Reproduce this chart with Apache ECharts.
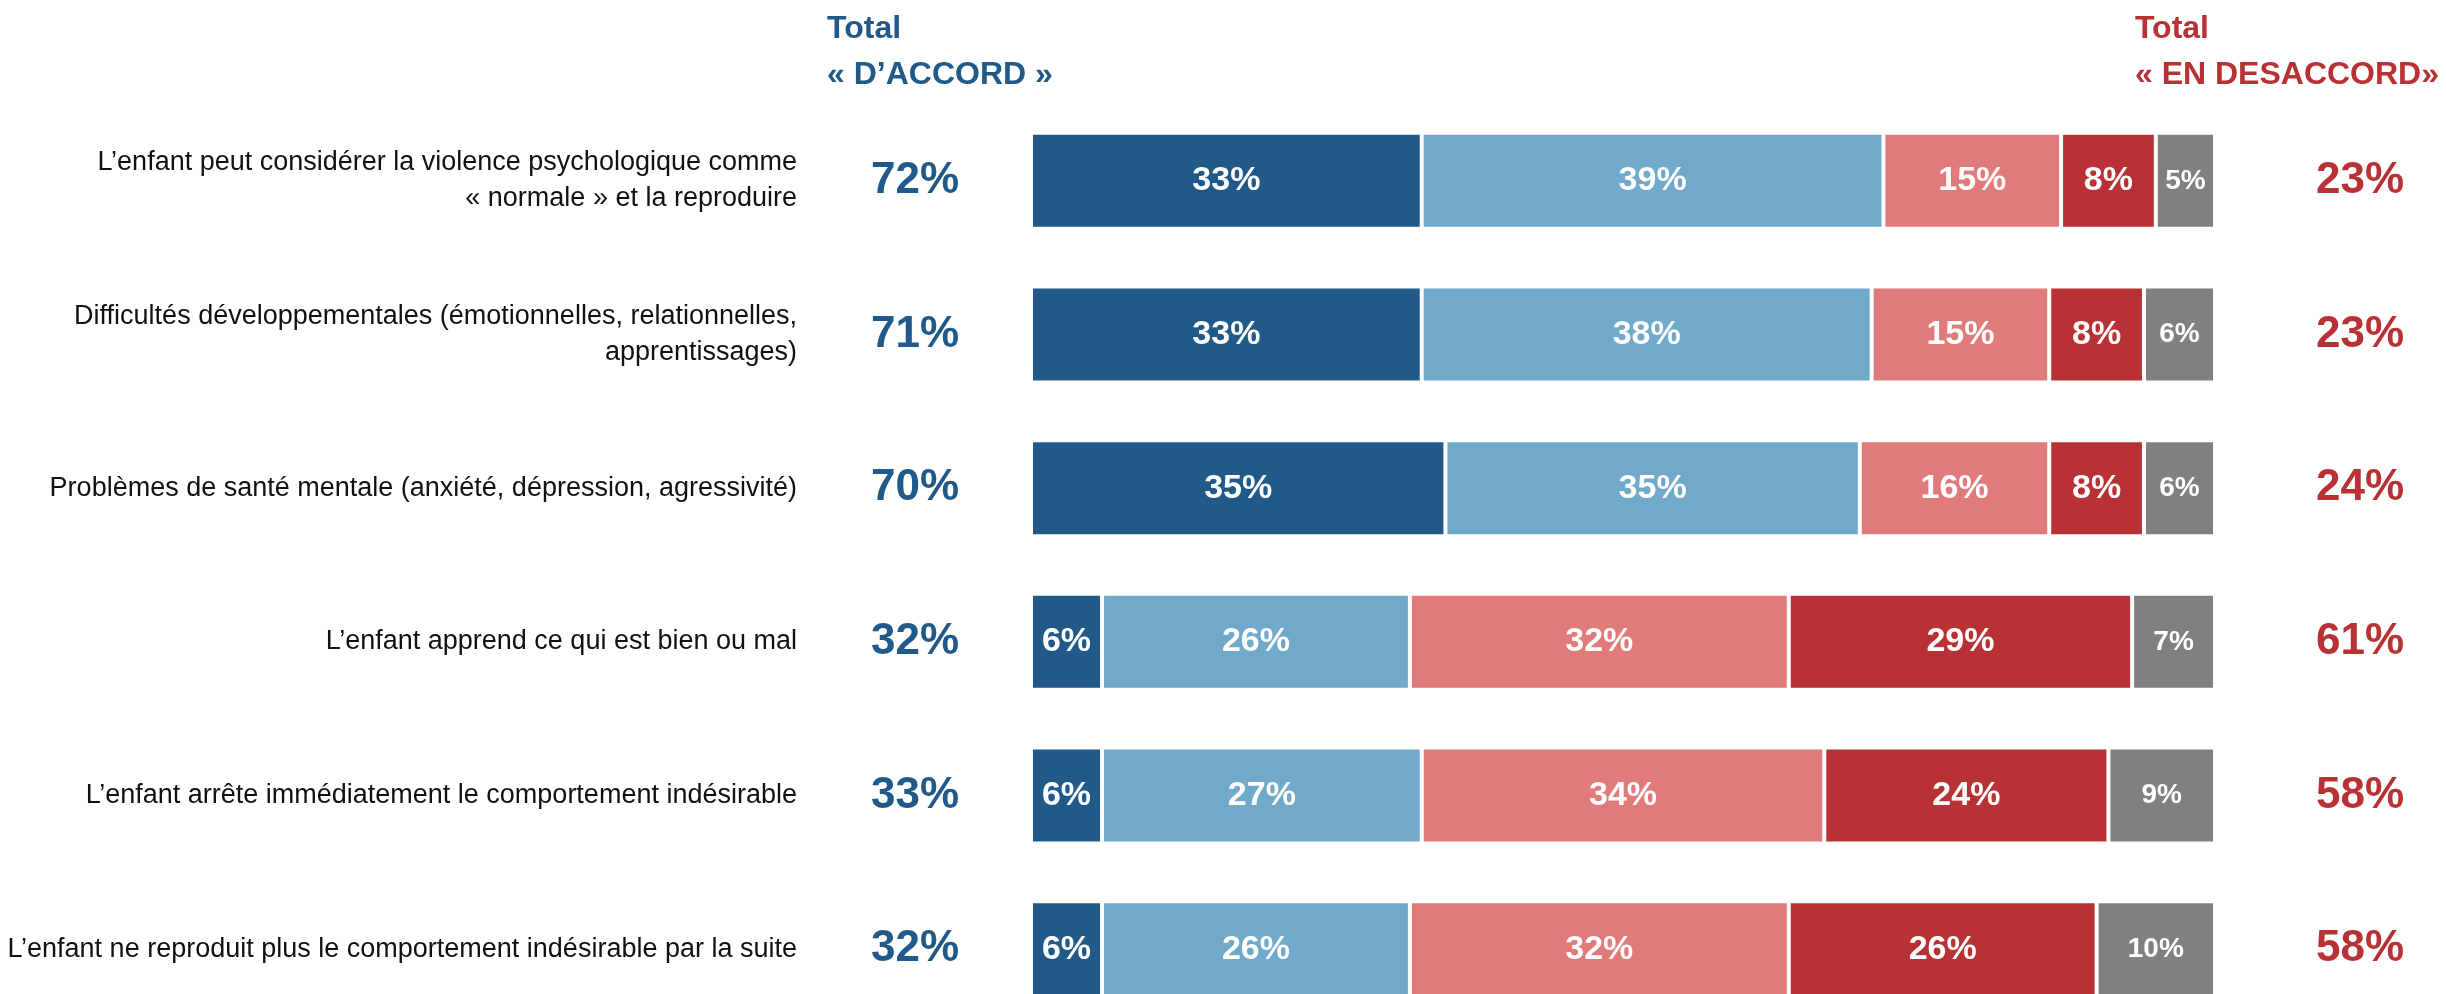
<!DOCTYPE html>
<html>
<head>
<meta charset="utf-8">
<style>
  html, body { margin: 0; padding: 0; background: #ffffff; overflow: hidden; }
  /* canvas is a little taller than the window: the last row runs past the bottom edge */
  #chart { width: 2446px; height: 1026px; }
</style>
<script src="https://cdn.jsdelivr.net/npm/echarts@6/dist/echarts.min.js"></script>
</head>
<body>
<div id="chart"></div>
<script>
// Statements, top to bottom
const statements = [
  "L’enfant peut considérer la violence psychologique comme\n« normale » et la reproduire",
  "Difficultés développementales (émotionnelles, relationnelles,\napprentissages)",
  "Problèmes de santé mentale (anxiété, dépression, agressivité)",
  "L’enfant apprend ce qui est bien ou mal",
  "L’enfant arrête immédiatement le comportement indésirable",
  "L’enfant ne reproduit plus le comportement indésirable par la suite"
];

// Answer shares (%) per statement
const toutAFaitDAccord   = [33, 33, 35, 6, 6, 6];
const plutotDAccord      = [39, 38, 35, 26, 27, 26];
const plutotPasDAccord   = [15, 15, 16, 32, 34, 32];
const pasDuToutDAccord   = [8, 8, 8, 29, 24, 26];
const neSaitPas          = [5, 6, 6, 7, 9, 10];

// Column totals
const totalAccord    = toutAFaitDAccord.map((v, i) => v + plutotDAccord[i]);
const totalDesaccord = plutotPasDAccord.map((v, i) => v + pasDuToutDAccord[i]);

const headerAccord    = "Total\n« D’ACCORD »";
const headerDesaccord = "Total\n« EN DESACCORD»";

const BLUE_DARK  = '#215A89';
const BLUE_LIGHT = '#70A9C9';
const RED_LIGHT  = '#E07A7B';
const RED_DARK   = '#B83134';
const GREY       = '#808080';

const FONT = '"Liberation Sans", Arial, sans-serif';

function segment(name, data, color, size) {
  return {
    name: name,
    type: 'bar',
    stack: 'total',
    data: data,
    barWidth: 96,
    itemStyle: { color: color, borderColor: '#ffffff', borderWidth: 2 },
    label: {
      show: true,
      position: 'inside',
      formatter: '{c}%',
      color: '#ffffff',
      fontFamily: FONT,
      fontWeight: 'bold',
      fontSize: size
    },
    emphasis: { disabled: true }
  };
}

const chart = echarts.init(document.getElementById('chart'), null, { renderer: 'canvas' });

chart.setOption({
  backgroundColor: '#ffffff',
  animation: false,
  grid: { left: 1031, right: 231, top: 104, bottom: 0, containLabel: false },
  xAxis: {
    type: 'value', min: 0, max: 100,
    show: false
  },
  yAxis: [
    {
      type: 'category',
      inverse: true,
      data: statements,
      position: 'left',
      axisLine: { show: false },
      axisTick: { show: false },
      splitLine: { show: false },
      axisLabel: {
        margin: 234,
        align: 'right',
        color: '#111111',
        fontFamily: FONT,
        fontSize: 27,
        lineHeight: 36
      }
    },
    {
      type: 'category',
      inverse: true,
      data: totalAccord.map(v => v + '%'),
      position: 'left',
      axisLine: { show: false },
      axisTick: { show: false },
      splitLine: { show: false },
      axisLabel: {
        margin: 116,
        align: 'center',
        color: BLUE_DARK,
        fontFamily: FONT,
        fontWeight: 'bold',
        fontSize: 44
      }
    },
    {
      type: 'category',
      inverse: true,
      data: totalDesaccord.map(v => v + '%'),
      position: 'right',
      axisLine: { show: false },
      axisTick: { show: false },
      splitLine: { show: false },
      axisLabel: {
        margin: 145,
        align: 'center',
        color: RED_DARK,
        fontFamily: FONT,
        fontWeight: 'bold',
        fontSize: 44
      }
    }
  ],
  graphic: [
    {
      type: 'text',
      left: 827,
      top: 6,
      style: {
        text: headerAccord,
        fill: BLUE_DARK,
        font: 'bold 32px ' + FONT,
        lineHeight: 46,
        align: 'left'
      }
    },
    {
      type: 'text',
      right: 7,
      top: 6,
      style: {
        text: headerDesaccord,
        fill: RED_DARK,
        font: 'bold 32px ' + FONT,
        lineHeight: 46,
        align: 'right'
      }
    }
  ],
  series: [
    segment('Tout à fait d’accord', toutAFaitDAccord, BLUE_DARK, 34),
    segment('Plutôt d’accord', plutotDAccord, BLUE_LIGHT, 34),
    segment('Plutôt pas d’accord', plutotPasDAccord, RED_LIGHT, 34),
    segment('Pas du tout d’accord', pasDuToutDAccord, RED_DARK, 34),
    segment('Ne sait pas', neSaitPas, GREY, 28)
  ]
});
</script>
</body>
</html>
